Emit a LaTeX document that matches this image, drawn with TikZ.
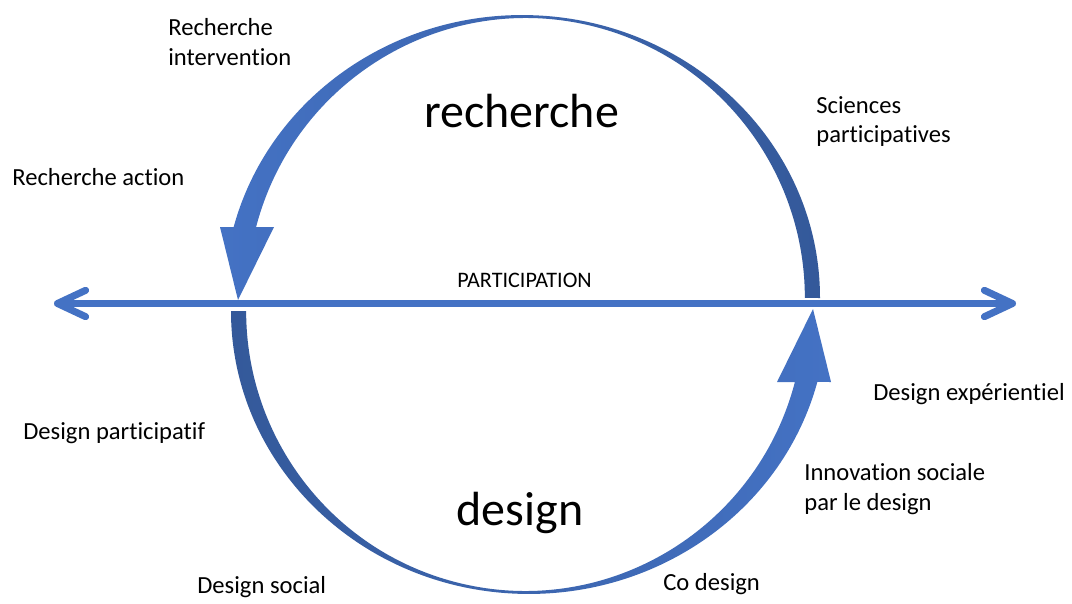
\documentclass[tikz,border=0pt]{standalone}
\usepackage{fontspec}
\setmainfont{Carlito}[Ligatures=NoCommon]
\usetikzlibrary{arrows.meta}
\definecolor{partblue}{HTML}{4472C4}
\definecolor{partdark}{HTML}{34599A}
\tikzset{
  lbl/.style={anchor=base west, align=left, inner sep=0pt, font=\fontsize{14}{17}\selectfont},
  bigword/.style={anchor=base, inner sep=0pt, font=\fontsize{27.3}{32}\selectfont},
  axis/.style={partblue, line width=4pt, {Straight Barb[length=16pt,width=15pt,round]}-{Straight Barb[length=16pt,width=15pt,round]}}
}
\begin{document}
\begin{tikzpicture}[x=0.02cm, y=0.02cm]
\useasboundingbox (0,0) rectangle (1072,603);
% axe participation
\coordinate (west) at (54,299.5);
\coordinate (east) at (1016,299.5);
\draw[axis] (west) -- (east);
\node[anchor=base, inner sep=0pt, font=\fontsize{12.6}{14}\selectfont] (participation) at (524.5,316) {PARTICIPATION};
% les deux demi-boucles
\foreach \rot/\lc/\rc in {0/partblue/partdark, 180/partdark/partblue}
  \shade[left color=\lc, right color=\rc, rotate around={\rot:(525.5,298.5)}]
    (820,305) arc[start angle=0, end angle=165.47, x radius=5.96cm, y radius=5.66cm]
    -- (220,376) -- (238,303) -- (274,376) -- (256.1,376)
    arc[start angle=165.31, end angle=0, x radius=5.58cm, y radius=5.6cm] -- cycle;
\node[bigword] (recherche) at (521.5,476) {recherche};
\node[bigword] (design) at (520,78) {design};
% pratiques (base = derniere ligne)
\node[lbl] (rechinter) at (168,538) {Recherche\\intervention};
\node[lbl] (rechaction) at (12,418) {Recherche action};
\node[lbl] (sciences) at (816,460) {Sciences\\participatives};
\node[lbl] (designpart) at (23,164) {Design participatif};
\node[lbl] (designsoc) at (197,10) {Design social};
\node[lbl] (designexp) at (873,203) {Design expérientiel};
\node[lbl] (innovation) at (804,93) {Innovation sociale\\par le design};
\node[lbl] (codesign) at (663,13) {Co design};
\end{tikzpicture}
\end{document}
